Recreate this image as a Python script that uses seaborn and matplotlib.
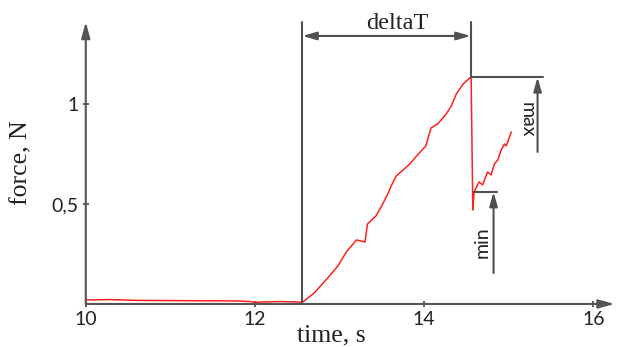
import matplotlib
matplotlib.use("Agg")
import matplotlib.pyplot as plt
import seaborn as sns
import pandas as pd

# ---- data ----
time_s = [10.00, 10.30, 10.60, 11.00, 11.40, 11.80, 11.95, 12.00, 12.10, 12.30, 12.50, 12.56,
          12.70, 12.86, 12.98, 13.08, 13.20, 13.30, 13.33, 13.43, 13.51, 13.57, 13.61, 13.67,
          13.75, 13.83, 13.91, 14.02, 14.08, 14.16, 14.26, 14.32, 14.38, 14.46, 14.54, 14.555,
          14.565, 14.575, 14.59, 14.65, 14.69, 14.75, 14.79, 14.83, 14.87, 14.91, 14.95, 14.97,
          15.03]
force_N = [0.020, 0.022, 0.018, 0.017, 0.016, 0.015, 0.012, 0.008, 0.010, 0.012, 0.010, 0.008,
           0.055, 0.13, 0.19, 0.26, 0.32, 0.31, 0.40, 0.44, 0.50, 0.55, 0.59, 0.64,
           0.67, 0.70, 0.74, 0.79, 0.88, 0.90, 0.95, 0.99, 1.05, 1.10, 1.13, 1.134,
           0.80, 0.47, 0.56, 0.61, 0.595, 0.66, 0.645, 0.70, 0.72, 0.77, 0.80, 0.79,
           0.86]
x_ticks = [10, 12, 14, 16]
x_tick_labels = ["10", "12", "14", "16"]
y_ticks = [0.5, 1.0]
y_tick_labels = ["0,5", "1"]

df = pd.DataFrame({"time": time_s, "force": force_N})

sns.set_theme(style="white")
plt.rcParams["font.family"] = ["Lato", "DejaVu Sans"]

fig = plt.figure(figsize=(6.17, 3.47), dpi=100)
ax = fig.add_axes([0.139, 0.124, 0.857, 0.8127])

sns.lineplot(data=df, x="time", y="force", ax=ax, color="#ff2020", lw=1.1,
             estimator=None, sort=False)

ax.set_xlim(10, 16.25)
ax.set_ylim(0, 1.41)

for s in ax.spines.values():
    s.set_visible(False)

gray = "#555555"
ax.annotate("", xy=(1, 0), xytext=(0, 0), xycoords="axes fraction",
            arrowprops=dict(arrowstyle="-|>,head_length=0.8,head_width=0.22",
                            color=gray, lw=1.5, shrinkA=0, shrinkB=0))
ax.annotate("", xy=(0, 1), xytext=(0, 0), xycoords="axes fraction",
            arrowprops=dict(arrowstyle="-|>,head_length=0.8,head_width=0.22",
                            color=gray, lw=1.5, shrinkA=0, shrinkB=0))

ax.set_xticks(x_ticks)
ax.set_xticklabels(x_tick_labels)
ax.set_yticks(y_ticks)
ax.set_yticklabels(y_tick_labels)
ax.tick_params(axis="both", which="major", direction="inout", length=4, width=1.3,
               color=gray, labelsize=14, labelcolor="#222222", pad=3,
               bottom=True, left=True)

serif = ["Liberation Serif", "DejaVu Serif"]
ax.set_xlabel("time, s", fontsize=18.5, family=serif, color="#222222")
ax.set_ylabel("force, N", fontsize=18.5, family=serif, color="#222222")
ax.xaxis.set_label_coords(0.465, -0.072)
ax.yaxis.set_label_coords(-0.100, 0.5)

# ---- annotations ----
ann = "#505050"
lw = 1.5
ax.plot([12.56, 12.56], [0, 1.41], color=ann, lw=lw, clip_on=False)
ax.plot([14.55, 14.55], [1.134, 1.41], color=ann, lw=lw, clip_on=False)
ax.annotate("", xy=(12.56, 1.34), xytext=(14.55, 1.34),
            arrowprops=dict(arrowstyle="<|-|>,head_length=0.7,head_width=0.2",
                            color=ann, lw=lw, shrinkA=0, shrinkB=0))
ax.text(13.68, 1.375, "deltaT", ha="center", va="baseline", fontsize=17.5,
        family=serif, color="#222222", clip_on=False)

ax.plot([14.55, 15.41], [1.134, 1.134], color=ann, lw=lw)
ax.annotate("", xy=(15.34, 1.134), xytext=(15.34, 0.76),
            arrowprops=dict(arrowstyle="-|>,head_length=0.7,head_width=0.2",
                            color=ann, lw=lw, shrinkA=0, shrinkB=0))
ax.text(15.22, 0.92, "max", rotation=-90, ha="center", va="center", fontsize=14,
        color="#222222")

ax.plot([14.59, 14.86], [0.56, 0.56], color=ann, lw=lw)
ax.annotate("", xy=(14.82, 0.56), xytext=(14.82, 0.155),
            arrowprops=dict(arrowstyle="-|>,head_length=0.7,head_width=0.2",
                            color=ann, lw=lw, shrinkA=0, shrinkB=0))
ax.text(14.68, 0.31, "min", rotation=90, ha="center", va="center", fontsize=14,
        color="#222222")

fig.savefig("out.png", dpi=100)
